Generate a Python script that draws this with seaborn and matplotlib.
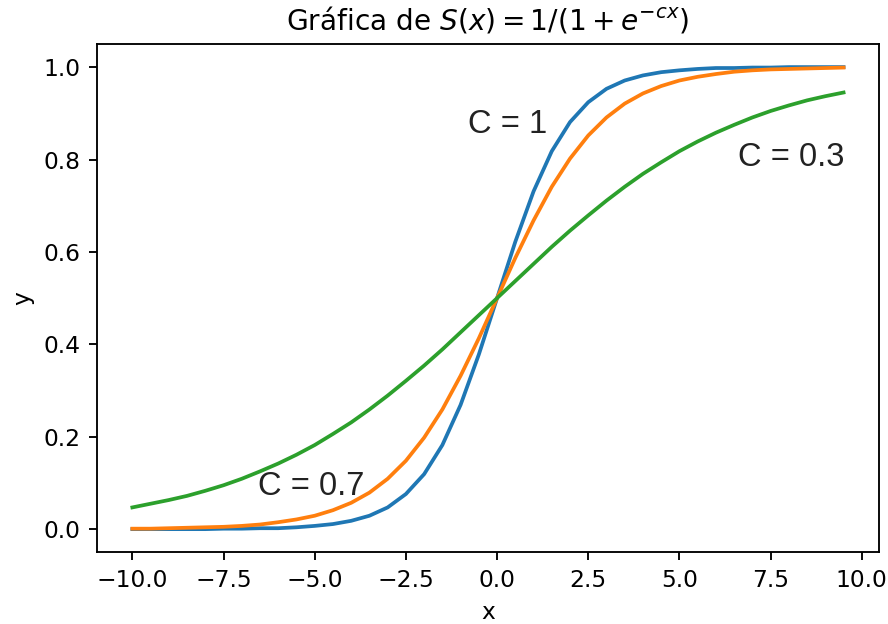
import pandas as pd
import matplotlib
matplotlib.use("Agg")
import matplotlib.pyplot as plt
import seaborn as sns

x_vals = [-10.0, -9.5, -9.0, -8.5, -8.0, -7.5, -7.0, -6.5, -6.0, -5.5,
          -5.0, -4.5, -4.0, -3.5, -3.0, -2.5, -2.0, -1.5, -1.0, -0.5,
          0.0, 0.5, 1.0, 1.5, 2.0, 2.5, 3.0, 3.5, 4.0, 4.5,
          5.0, 5.5, 6.0, 6.5, 7.0, 7.5, 8.0, 8.5, 9.0, 9.5]

# C = 1
y_c1 = [0.000, 0.000, 0.000, 0.000, 0.000, 0.001, 0.001, 0.002, 0.002, 0.004,
        0.007, 0.011, 0.018, 0.029, 0.047, 0.076, 0.119, 0.182, 0.269, 0.378,
        0.500, 0.622, 0.731, 0.818, 0.881, 0.924, 0.953, 0.971, 0.982, 0.989,
        0.993, 0.996, 0.998, 0.998, 0.999, 0.999, 1.000, 1.000, 1.000, 1.000]

# C = 0.7
y_c07 = [0.001, 0.001, 0.002, 0.003, 0.004, 0.005, 0.007, 0.010, 0.015, 0.021,
         0.029, 0.041, 0.057, 0.079, 0.109, 0.148, 0.198, 0.259, 0.332, 0.413,
         0.500, 0.587, 0.668, 0.741, 0.802, 0.852, 0.891, 0.921, 0.943, 0.959,
         0.971, 0.979, 0.985, 0.990, 0.993, 0.995, 0.996, 0.997, 0.998, 0.999]

# C = 0.3
y_c03 = [0.047, 0.055, 0.063, 0.072, 0.083, 0.095, 0.109, 0.125, 0.142, 0.161,
         0.182, 0.206, 0.231, 0.259, 0.289, 0.321, 0.354, 0.389, 0.426, 0.463,
         0.500, 0.537, 0.574, 0.611, 0.646, 0.679, 0.711, 0.741, 0.769, 0.794,
         0.818, 0.839, 0.858, 0.875, 0.891, 0.905, 0.917, 0.928, 0.937, 0.945]

series_names = ["C = 1", "C = 0.7", "C = 0.3"]

df = pd.concat([
    pd.DataFrame({"x": x_vals, "y": y_c1, "c": series_names[0]}),
    pd.DataFrame({"x": x_vals, "y": y_c07, "c": series_names[1]}),
    pd.DataFrame({"x": x_vals, "y": y_c03, "c": series_names[2]}),
])

fig = plt.figure(figsize=(888 / 168, 624 / 168), dpi=168)
ax = fig.add_axes([0.109, 0.115, 0.881, 0.8145])

sns.lineplot(data=df, x="x", y="y", hue="c", palette=["#1f77b4", "#ff7f0e", "#2ca02c"],
             linewidth=1.6, legend=False, ax=ax)

ax.set_title(r"Gráfica de $S(x) = 1/(1 + e^{-cx})$")
ax.set_xlabel("x")
ax.set_ylabel("y")

lab_font = dict(fontsize=14, family=["Liberation Sans", "DejaVu Sans"], color="#222222")
ax.text(-0.8, 0.857, "C = 1", **lab_font)
ax.text(6.6, 0.786, "C = 0.3", **lab_font)
ax.text(-6.55, 0.074, "C = 0.7", **lab_font)

fig.savefig("out.png", dpi=168)
